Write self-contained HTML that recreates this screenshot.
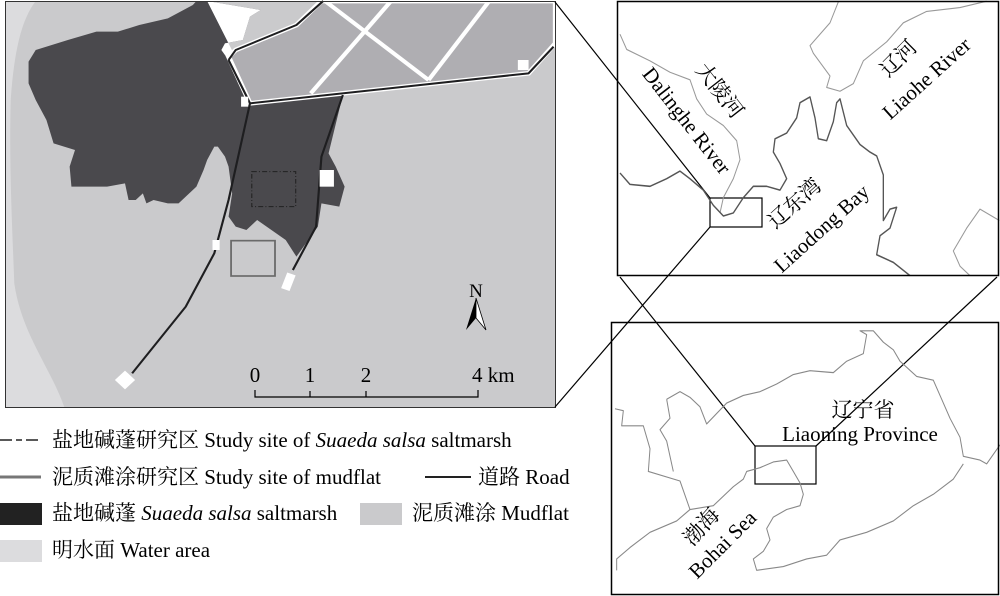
<!DOCTYPE html>
<html><head><meta charset="utf-8"><style>
html,body{margin:0;padding:0;background:#fff;width:1000px;height:596px;overflow:hidden}
svg{display:block}
text{font-family:"Liberation Serif","Noto Serif CJK SC",serif;fill:#000}
</style></head><body>
<svg width="1000" height="596" viewBox="0 0 1000 596" xmlns="http://www.w3.org/2000/svg">
<!-- main map -->
<g transform="scale(0.35714,0.33333)">
<rect x="14" y="3" width="1541" height="1218" fill="#cacacc"/>
<path d="M14,3 L100,3 C60,60 40,150 30,300 C25,500 35,700 40,850 C60,1000 140,1100 180,1221 L14,1221 Z" fill="#dcdcde"/>
<path d="M100,3 L550,3 L540,15 L470,55 L390,75 L330,95 L270,95 L190,120 L100,150 L80,185 L80,250 L100,300 L130,360 L150,430 L210,450 L195,500 L200,560 L300,560 L350,550 L360,600 L380,600 L400,580 L410,610 L430,600 L470,610 L500,610 L550,560 L570,510 L580,480 L600,440 L610,440 L630,470 L640,500 L650,580 L640,650 L660,680 L690,690 L720,660 L760,690 L800,720 L830,770 L890,680 L900,610 L950,620 L965,560 L940,500 L920,460 L960,285 L700,315 L690,280 L660,230 L640,180 L620,150 L630,130 L680,120 L700,50 L730,30 L580,3 Z" fill="#4a494d"/>
<path d="M580,3 L730,30 L700,50 L680,120 L630,130 L620,150 L640,180 L660,230 L690,280 L700,315 L720,300 Z" fill="#fff"/>
<path d="M640,170 L660,150 L830,75 L900,3 L1555,3 L1555,130 L1480,220 L700,310 Z" fill="#afaeb2" stroke="#fff" stroke-width="14"/>
<g stroke="#fff" stroke-width="12" fill="none">
<line x1="870" y1="280" x2="1095" y2="3"/><line x1="910" y1="3" x2="1200" y2="240"/><line x1="1200" y1="240" x2="1370" y2="3"/>
</g>
<g stroke="#1e1e20" stroke-width="6" fill="none" stroke-linejoin="round">
<polyline points="640,180 660,150 830,75 905,3"/>
<polyline points="640,180 700,310 1480,220 1550,140"/>
<polyline points="700,310 640,600 600,760 520,920 370,1120"/>
<polyline points="960,285 900,470 885,680 820,810"/>
</g>
<g fill="#fff">
<rect x="330" y="1120" width="40" height="40" transform="rotate(-45 350 1140)"/>
<rect x="795" y="820" width="25" height="50" transform="rotate(20 807 845)"/>
<rect x="895" y="510" width="40" height="50"/>
<rect x="595" y="720" width="20" height="30"/>
<rect x="1450" y="180" width="30" height="30"/>
<rect x="675" y="290" width="20" height="30"/>
</g>
<rect x="705" y="515" width="123" height="105" fill="none" stroke="#222" stroke-width="3" stroke-dasharray="14,6,3,6"/>
<rect x="647" y="722" width="123" height="106" fill="none" stroke="#6a6a6a" stroke-width="5"/>
</g>
<rect x="5.5" y="1.5" width="550" height="406" fill="none" stroke="#333" stroke-width="1"/>
<!-- north arrow -->
<text x="476" y="297" font-size="19" text-anchor="middle">N</text>
<path d="M476,298 L466,330 L476,318 Z" fill="#000"/><path d="M476,298 L486,330 L476,318 Z" fill="#fff" stroke="#000" stroke-width="0.8"/>
<!-- scale bar -->
<g stroke="#000" stroke-width="1.2" fill="none">
<polyline points="255,390 255,397 478,397 478,390"/><line x1="310" y1="391" x2="310" y2="397"/><line x1="366" y1="391" x2="366" y2="397"/>
</g>
<g font-size="21"><text x="255" y="382" text-anchor="middle">0</text><text x="310" y="382" text-anchor="middle">1</text><text x="366" y="382" text-anchor="middle">2</text><text x="472" y="382">4 km</text></g>
<!-- connectors -->
<g stroke="#000" stroke-width="1.2" fill="none">
<line x1="555" y1="2" x2="710" y2="198"/><line x1="555" y1="407" x2="710" y2="227"/>
<line x1="620" y1="277" x2="755" y2="446"/><line x1="997" y1="277" x2="816" y2="446"/>
<rect x="710" y="198" width="52" height="29"/>
<rect x="755" y="446" width="61" height="38"/>
</g>
<!-- top right box -->
<g transform="translate(600,0) scale(0.33333,0.38023)" fill="none" stroke-linejoin="round">
<polyline stroke="#999" stroke-width="3" points="60,90 80,130 150,160 210,190 270,210 290,260 320,300 370,330 410,370 420,420 400,470 370,520 360,560"/>
<polyline stroke="#999" stroke-width="3" points="715,5 690,60 630,120 640,140 690,200 680,230 720,240 760,220 790,160 860,110 910,60 980,30 1080,20 1160,3"/>
<polyline stroke="#999" stroke-width="3" points="1198,580 1140,550 1100,600 1060,660 1080,700 1110,725"/>
<polyline stroke="#555" stroke-width="4" points="60,455 90,485 150,490 200,470 240,450 270,470 310,500 340,540 370,568 400,560 430,520 460,490 500,490 540,500 560,470 540,430 520,400 525,365 560,350 590,310 600,270 630,255 645,310 655,365 680,370 700,320 710,270 720,260 740,330 780,380 810,400 830,410 850,460 850,580 870,550 890,545 870,600 840,620 830,670 880,690 930,725"/>
</g>
<rect x="617.5" y="1.5" width="381" height="274" fill="none" stroke="#000" stroke-width="1.5"/>
<g font-size="21">
<text transform="translate(685,122) rotate(52)" text-anchor="middle" dominant-baseline="middle">Dalinghe River</text>
<text transform="translate(718,92) rotate(52)" text-anchor="middle" dominant-baseline="middle">大陵河</text>
<text transform="translate(900,60) rotate(-45)" text-anchor="middle" dominant-baseline="middle">辽河</text>
<text transform="translate(928,80) rotate(-42)" text-anchor="middle" dominant-baseline="middle">Liaohe River</text>
<text transform="translate(796,205) rotate(-42)" text-anchor="middle" dominant-baseline="middle">辽东湾</text>
<text transform="translate(823,230) rotate(-42)" text-anchor="middle" dominant-baseline="middle">Liaodong Bay</text>
</g>
<!-- bottom box -->
<g transform="translate(600,0) scale(0.33333,0.38023)" fill="none" stroke="#888" stroke-width="3" stroke-linejoin="round">
<polyline points="45,1075 70,1080 65,1120 130,1120 150,1180 145,1240 240,1265 270,1340"/>
<polyline points="200,1050 240,1030 270,1045 300,1070 320,1115 380,1060 430,1040 480,1030 530,1010 580,985 630,975 700,980 740,950 790,930 800,880 780,870 820,870 850,900 880,920 900,950 950,990 1000,1000 1030,1060 1050,1100 1080,1150 1090,1200 1140,1210 1160,1220 1200,1170"/>
<polyline points="200,1050 210,1100 180,1130 200,1160 220,1240"/>
<polyline points="270,1340 230,1370 150,1400 90,1440 50,1470 50,1500"/>
<polyline points="270,1340 340,1330 400,1280 430,1260 440,1240 480,1230 520,1215 560,1210 580,1240 600,1270 610,1300 600,1330 560,1340 520,1360 500,1390 510,1420 490,1450 460,1470 470,1500 550,1490 620,1470 680,1460 720,1420 800,1400 880,1370 940,1330 1000,1300 1060,1260 1090,1220"/>
</g>
<rect x="611.5" y="322.5" width="387" height="272" fill="none" stroke="#000" stroke-width="1.5"/>
<g font-size="21">
<text x="863" y="417" text-anchor="middle">辽宁省</text>
<text x="860" y="441" text-anchor="middle">Liaoning Province</text>
<text transform="translate(703,528) rotate(-48)" text-anchor="middle" dominant-baseline="middle">渤海</text>
<text transform="translate(724,546) rotate(-45)" text-anchor="middle" dominant-baseline="middle">Bohai Sea</text>
</g>
<!-- legend -->
<g font-size="21">
<line x1="0" y1="440" x2="40" y2="440" stroke="#222" stroke-width="1.5" stroke-dasharray="12,4,6,4"/>
<text x="52" y="447">盐地碱蓬研究区 Study site of <tspan font-style="italic">Suaeda salsa</tspan> saltmarsh</text>
<line x1="0" y1="477" x2="41" y2="477" stroke="#777" stroke-width="3"/>
<text x="52" y="484">泥质滩涂研究区 Study site of mudflat</text>
<line x1="425" y1="477" x2="471" y2="477" stroke="#222" stroke-width="2"/>
<text x="478" y="484">道路 Road</text>
<rect x="0" y="503" width="42" height="22" fill="#222"/>
<text x="52" y="520">盐地碱蓬 <tspan font-style="italic">Suaeda salsa</tspan> saltmarsh</text>
<rect x="360" y="503" width="42" height="22" fill="#cacacc"/>
<text x="412" y="520">泥质滩涂 Mudflat</text>
<rect x="0" y="540" width="42" height="22" fill="#dcdcde"/>
<text x="52" y="557">明水面 Water area</text>
</g>
</svg>
</body></html>
